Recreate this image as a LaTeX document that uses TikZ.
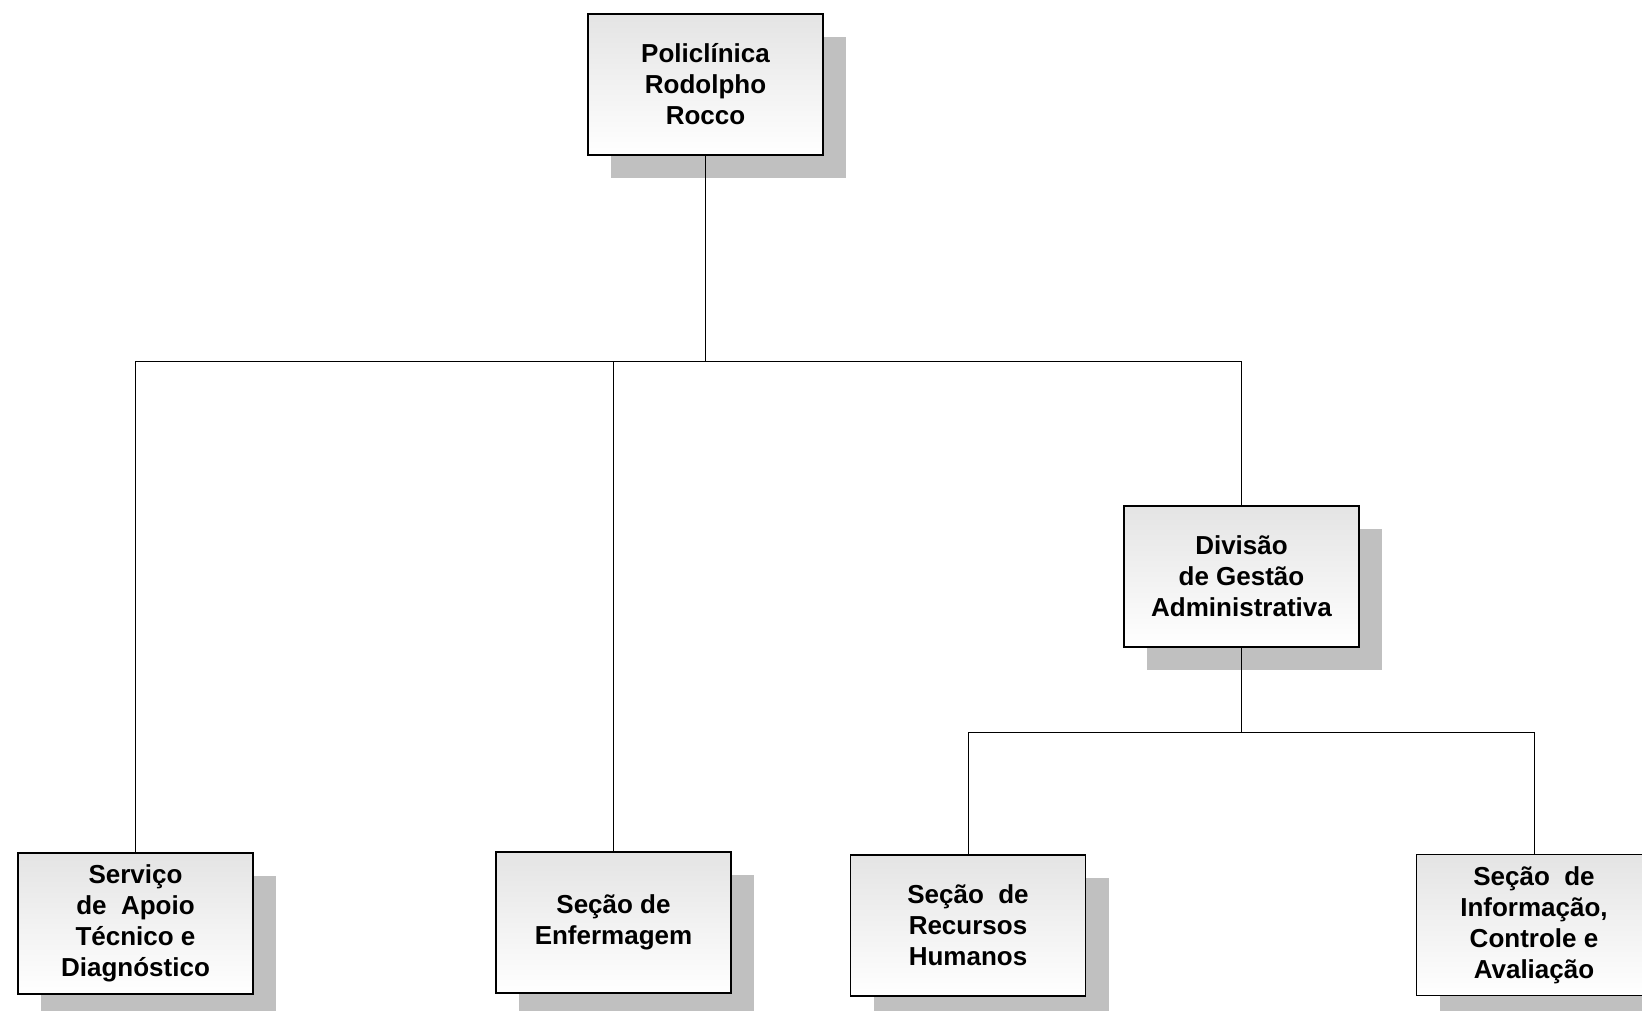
\documentclass[tikz,border=0pt]{standalone}
\usepackage{fontspec}
\setmainfont{Liberation Sans}
\usetikzlibrary{shadows}
\definecolor{shadowgray}{HTML}{C0C0C0}
\definecolor{topgray}{HTML}{E4E4E4}
\tikzset{
  orgbox/.style={rectangle, draw=black, line width=1.8pt,
    minimum width=235pt, minimum height=141pt, inner sep=0pt,
    top color=topgray, bottom color=white, align=center,
    font=\bfseries\fontsize{26}{31}\selectfont,
    drop shadow={shadow xshift=23pt, shadow yshift=-23pt, fill=shadowgray, opacity=1}},
  conn/.style={draw=black, line width=1pt}
}
\begin{document}
\begin{tikzpicture}[x=1pt,y=-1pt]
\useasboundingbox (0,0) rectangle (1642,1011);
\fill[white] (0,0) rectangle (1642,1011);
\begin{scope}
\clip (0,0) rectangle (1642,1011);
\node[orgbox] (root) at (705.5,84.5) {Policlínica\\Rodolpho\\Rocco};
\node[orgbox] (serv) at (135.5,923.5) {Serviço\\de\ \ Apoio\\Técnico e\\Diagnóstico};
\node[orgbox] (enf) at (613.5,922.5) {Seção de\\Enfermagem};
\node[orgbox] (div) at (1241.5,576.5) {Divisão\\de Gestão\\Administrativa};
\node[orgbox] (rh) at (968,925.5) {Seção\ \ de\\Recursos\\Humanos};
\node[orgbox] (info) at (1534,925) {Seção\ \ de\\Informação,\\Controle e\\Avaliação};
\coordinate (b1) at (705.5,361);
\coordinate (b2) at (1241.5,732);
\draw[conn] (root.south) -- (b1);
\draw[conn] (serv.north) |- (b1);
\draw[conn] (enf.north) |- (b1);
\draw[conn] (div.north) |- (b1);
\draw[conn] (div.south) -- (b2);
\draw[conn] (rh.north) |- (b2);
\draw[conn] (info.north) |- (b2);
\end{scope}
\end{tikzpicture}
\end{document}
